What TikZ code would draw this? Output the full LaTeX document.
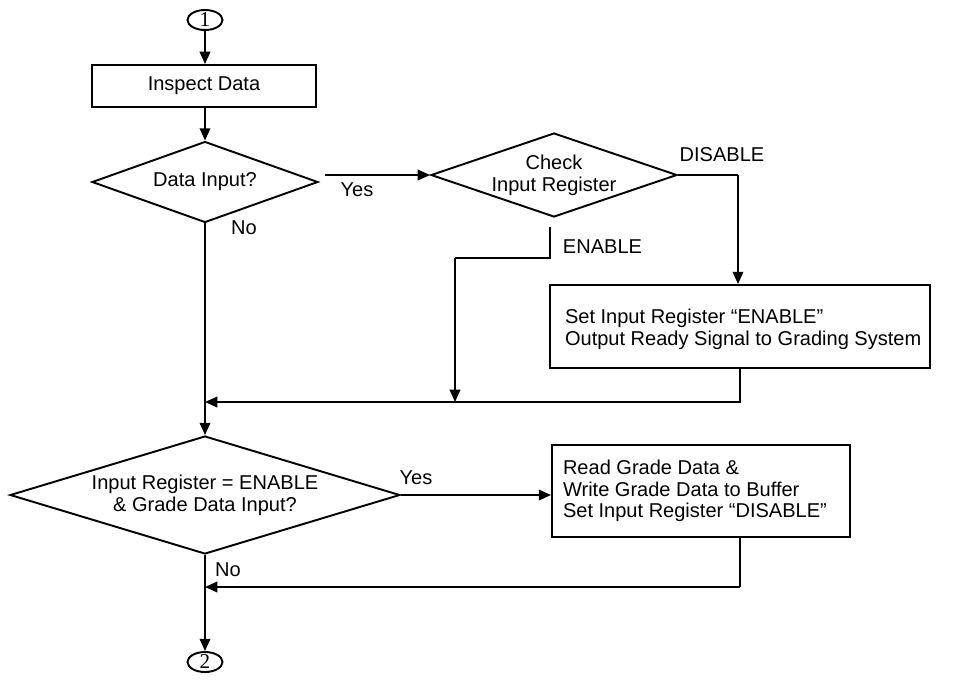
\documentclass[tikz,border=0pt]{standalone}
\usepackage{fontspec}
\setmainfont{Liberation Sans}
\newfontfamily\numfont{Liberation Serif}
\usetikzlibrary{shapes.geometric,arrows.meta}

\begin{document}
\begin{tikzpicture}[x=0.02cm,y=-0.02cm,
  font=\fontsize{11.4}{12.4}\selectfont,
  line width=1.1pt,
  >={Triangle[length=7pt,width=6pt]},
  conn/.style={draw,ellipse,inner sep=0pt,minimum width=0.7cm,minimum height=0.4cm,font=\numfont\fontsize{12}{12}\selectfont},
  procbox/.style={draw,rectangle,inner sep=0pt},
  decision/.style={draw,diamond,inner sep=0pt,aspect=3,align=center},
  lbl/.style={inner sep=0pt}]
\useasboundingbox (0,0) rectangle (960,681);

% off-page connectors
\node[conn] (c1) at (205,20) {1};
\node[conn] (c2) at (205,662) {2};

% process boxes (rectangles, with their text set separately)
\node[procbox,minimum width=4.48cm,minimum height=0.84cm] (inspect) at (204,86) {Inspect Data};
\node[procbox,minimum width=7.6cm,minimum height=1.66cm] (setena) at (740,326.5) {};
\node[procbox,minimum width=5.96cm,minimum height=1.84cm] (readgrade) at (701,491) {};
\node[lbl,anchor=west,align=left] (setenatxt) at ([xshift=0.3cm,yshift=-0.06cm]setena.west)
  {Set Input Register “ENABLE”\\Output Ready Signal to Grading System};
\node[lbl,anchor=west,align=left] (readtxt) at ([xshift=0.22cm]readgrade.west)
  {Read Grade Data \&\\Write Grade Data to Buffer\\Set Input Register “DISABLE”};

% decisions
\node[decision,minimum width=4.52cm,minimum height=1.62cm] (datain) at (205,182) {Data Input?};
\node[decision,minimum width=4.56cm,minimum height=1.68cm] (chk) at (554,175) {Check\\Input Register};
\node[decision,minimum width=7.8cm,minimum height=2.36cm] (ena) at (205,495) {Input Register = ENABLE\\\& Grade Data Input?};

% bends and junctions
\coordinate (j1) at (205,402);
\coordinate (j2) at (205,587);
\coordinate (e1) at (550,227);
\coordinate (e2) at (550,258);
\coordinate (e3) at (455,258);
\coordinate (e4) at (455,402);
\coordinate (d1) at (738,175);
\coordinate (b1) at (740,402);
\coordinate (b2) at (740,587);
\coordinate (y1) at (325,175);

% flow lines
\draw[->] (c1) -- (c1 |- inspect.north);
\draw[->] (inspect.south -| datain.north) -- (datain.north);
\draw[->] (y1) -- (chk.west);
\draw (datain.south) -- (j1);
\draw[->] (j1) -- (ena.north);
\draw (chk.east) -- (d1);
\draw[->] (d1) -- (d1 |- setena.north);
\draw (e1) -- (e2) -- (e3);
\draw[->] (e3) -- (e4);
\draw (setena.south -| b1) -- (b1) -- (e4);
\draw[->] (e4) -- (j1);
\draw[->] (ena.east) -- (readgrade.west |- ena.east);
\draw (readgrade.south -| b2) -- (b2);
\draw[->] (b2) -- (j2);
\draw (ena.south) -- (j2);
\draw[->] (j2) -- (c2);

% branch labels
\node[lbl] (yes1) at (357,190) {Yes};
\node[lbl] (no1) at (244,228) {No};
\node[lbl] (dis) at (722,155) {DISABLE};
\node[lbl,anchor=west] (enl) at (562,247) {ENABLE};
\node[lbl] (yes2) at (416,478) {Yes};
\node[lbl] (no2) at (228,570) {No};
\end{tikzpicture}
\end{document}
